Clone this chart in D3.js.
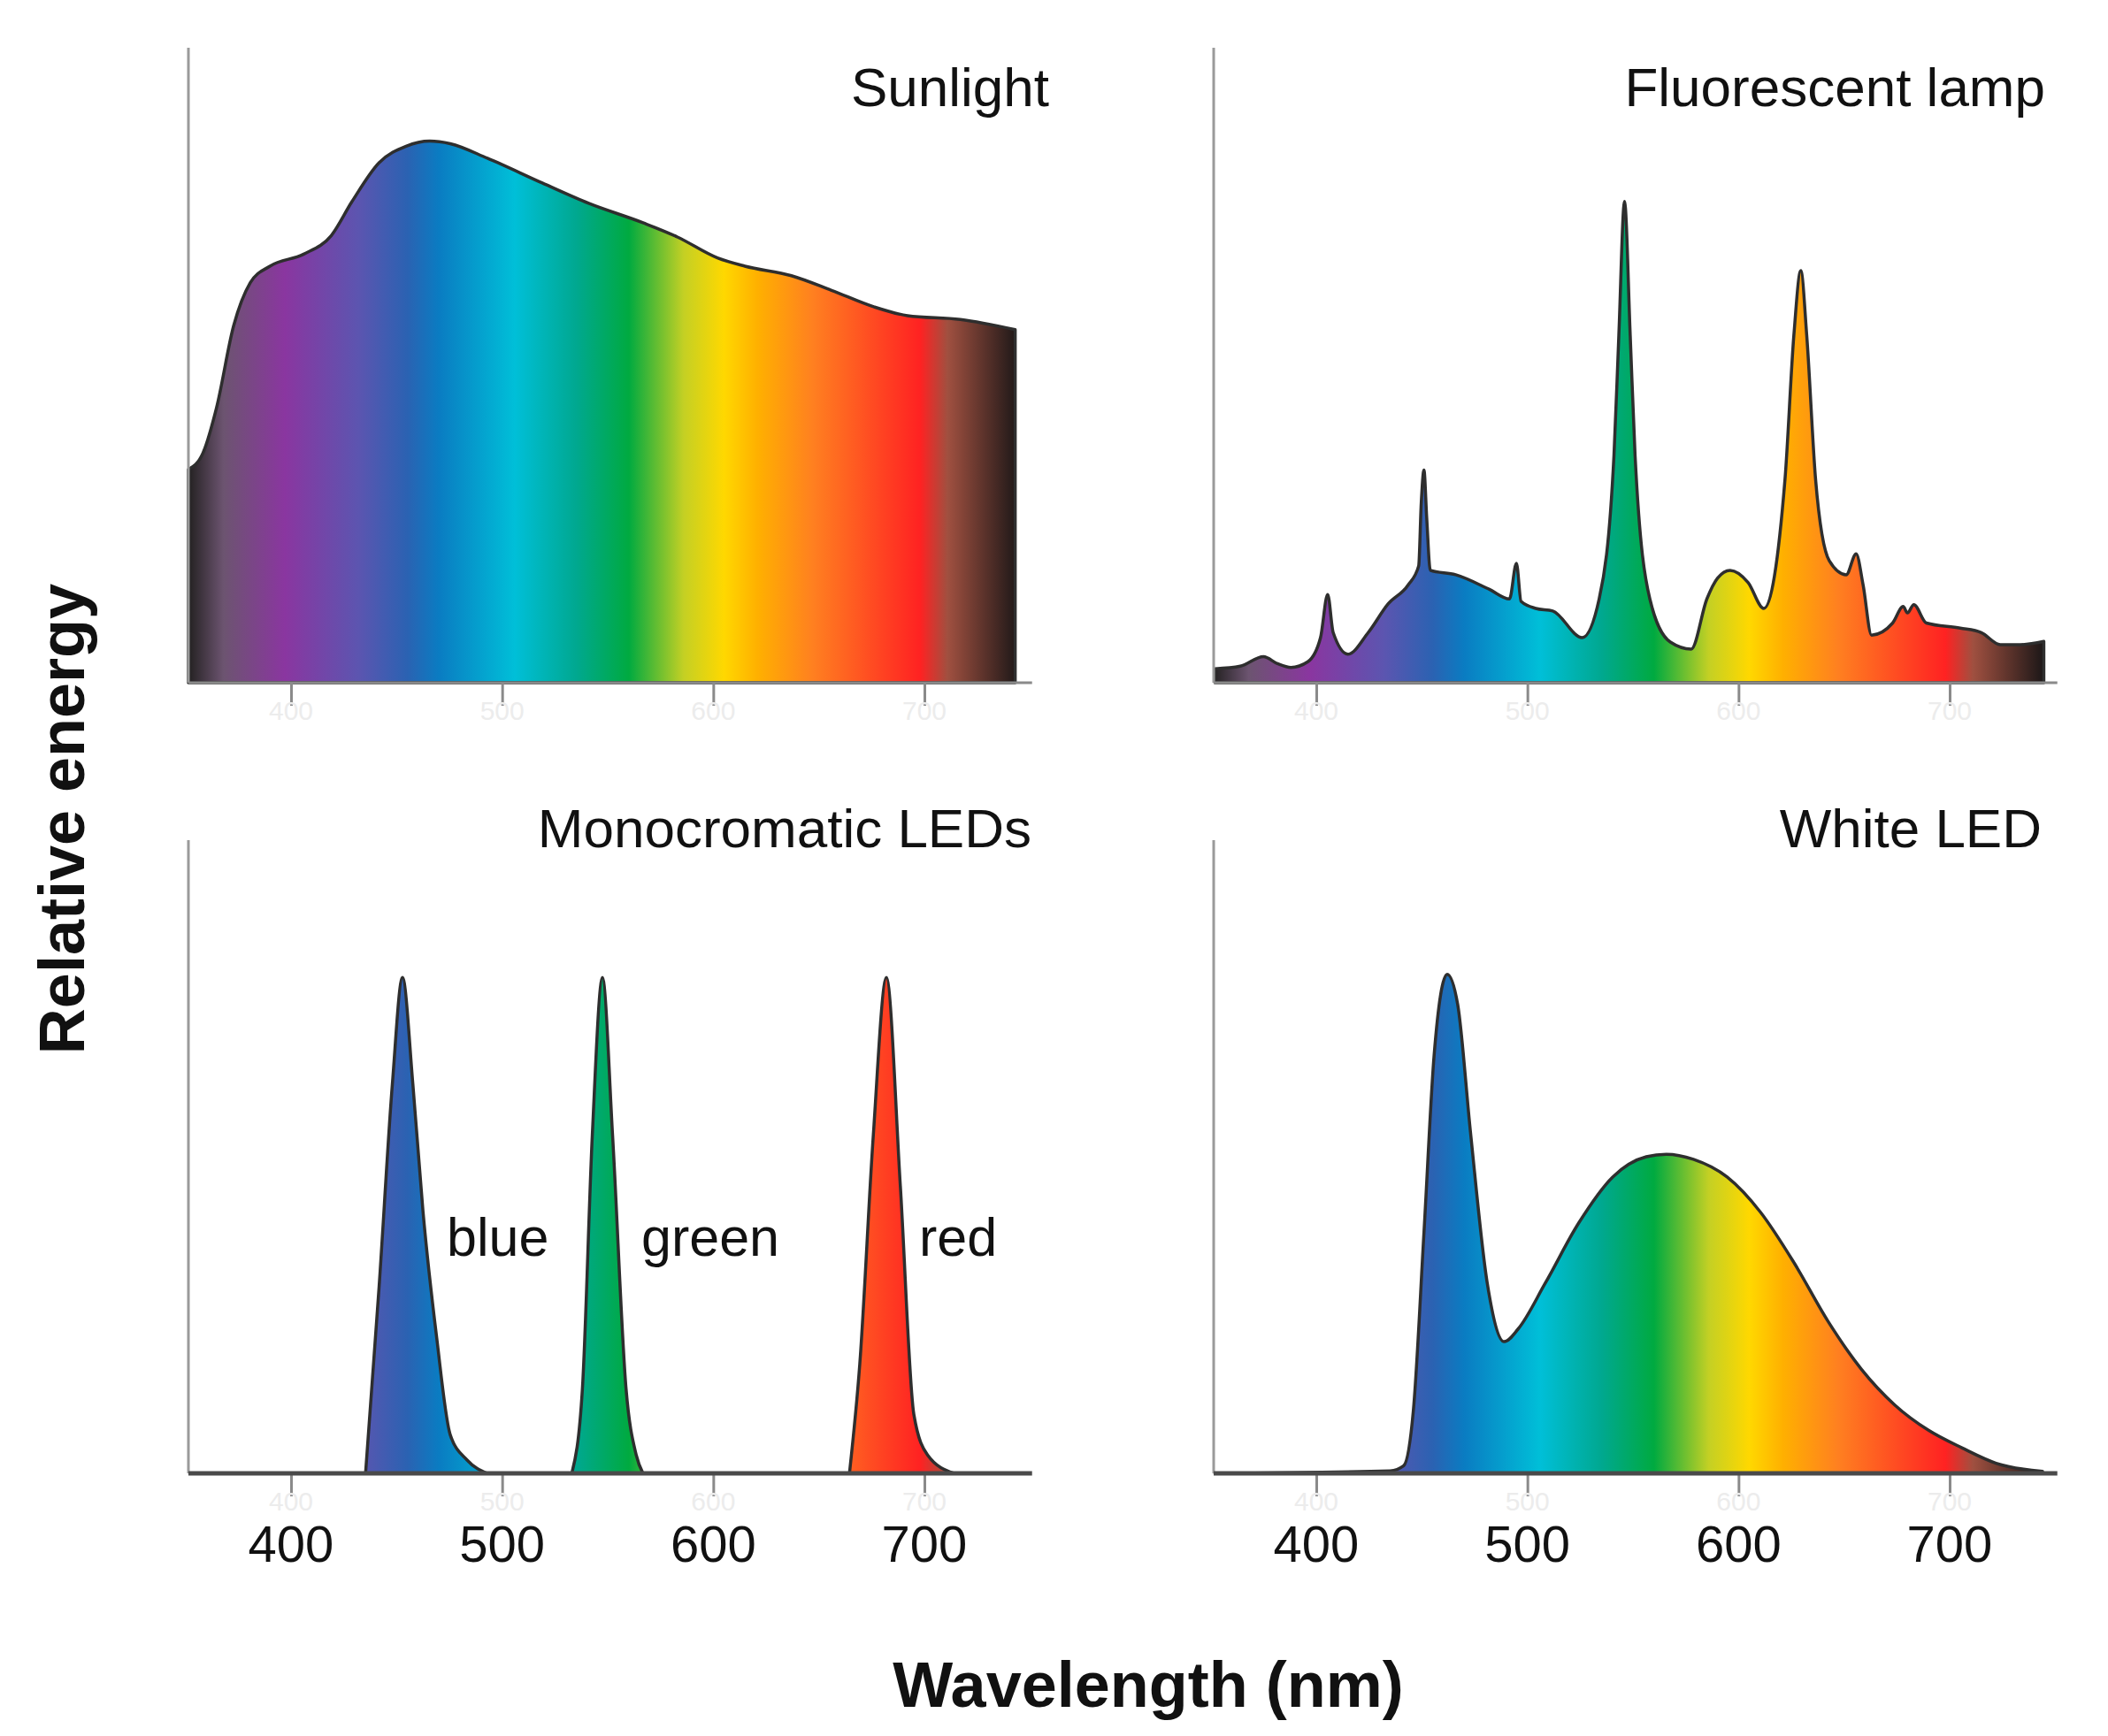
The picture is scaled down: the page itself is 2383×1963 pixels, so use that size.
<!DOCTYPE html>
<html>
<head>
<meta charset="utf-8">
<script src="https://cdn.jsdelivr.net/npm/d3@7"></script>
<style>
  body { margin: 0; background: #fff; }
  svg { display: block; }
  text { font-family: "Liberation Sans", Arial, Helvetica, sans-serif; }
</style>
</head>
<body>
<div id="chart"></div>
<script>
// wavelength ticks
const tickNm = [400, 500, 600, 700];

// spectrum colours along the wavelength axis
const specNm = [352, 368, 397, 432, 455, 470, 506, 535, 560, 586, 605, 621, 647, 679, 698, 711, 744];
const specColors = ["#262324", "#6c5470", "#8a36a0", "#5c55b0", "#2b62b2", "#0a7cc2", "#00bfd8", "#00a890",
                    "#00aa40", "#c4d024", "#ffd800", "#ffb000", "#ff8020", "#ff4422", "#ff2222", "#a05040", "#1e1818"];

// Sunlight
const sunNm  = [351.4, 358.3, 364.7, 372.8, 380.7, 390, 406, 419, 428.9, 441.7, 454.5, 465.7, 475.4, 493, 519, 541, 567, 583, 602, 615, 637, 656, 676, 692, 717, 743];
const sunVal = [0.336, 0.362, 0.433, 0.562, 0.630, 0.656, 0.675, 0.704, 0.758, 0.819, 0.845, 0.853, 0.849, 0.826, 0.787, 0.755, 0.724, 0.702, 0.669, 0.656, 0.641, 0.618, 0.592, 0.578, 0.572, 0.556];

// Fluorescent lamp
const fluoNm  = [352, 364, 375, 381.6, 388, 396, 402, 405.4, 408, 415, 424.6, 434, 443.5, 448.5, 449.7, 451, 452.3, 454, 466, 482, 491.5, 494.8, 497, 504, 512,
                 526, 534, 541, 543.3, 546, 548.7, 551, 558, 567.7, 577.6, 585, 590.1, 596, 604.5, 612, 622, 626.2, 629.5, 632.3, 636.5, 643, 651, 655.7, 659, 663,
                 673, 678, 680, 683, 689, 705, 715, 724, 733.5, 744.6];
const fluoVal = [0.022, 0.026, 0.041, 0.030, 0.024, 0.033, 0.071, 0.139, 0.079, 0.045, 0.079, 0.124, 0.154, 0.184, 0.282, 0.335, 0.26, 0.177, 0.17, 0.147, 0.132, 0.188, 0.128, 0.117, 0.113,
                 0.071, 0.132, 0.358, 0.547, 0.758, 0.547, 0.358, 0.132, 0.064, 0.053, 0.132, 0.165, 0.177, 0.158, 0.117, 0.32, 0.547, 0.649, 0.547, 0.32, 0.192, 0.17, 0.203, 0.154, 0.075,
                 0.094, 0.12, 0.11, 0.123, 0.094, 0.086, 0.079, 0.06, 0.06, 0.065];

// Monochromatic LEDs
const blueNm   = [435.3, 441.7, 448, 452.8, 457.7, 462.5, 469, 475.4, 483.4, 493];
const blueVal  = [0, 0.294, 0.615, 0.783, 0.615, 0.414, 0.214, 0.061, 0.021, 0];
const greenNm  = [533, 538, 542.7, 547.5, 552.3, 558.7, 563.5, 566.7];
const greenVal = [0, 0.133, 0.534, 0.783, 0.534, 0.133, 0.029, 0];
const redNm    = [664.5, 669.4, 675.8, 682, 688.6, 695, 701.5, 714];
const redVal   = [0, 0.173, 0.534, 0.783, 0.454, 0.093, 0.029, 0];

// White LED
const whiteNm  = [352, 435, 441.4, 446, 451, 455.8, 462, 467, 473, 481, 489, 495.6, 508.4, 524.4, 540.4, 556.3, 565.8, 578.6, 594.6, 610.5, 626.4, 642.4, 658.3, 674, 690, 706, 722, 744];
const whiteVal = [0, 0.004, 0.012, 0.1, 0.38, 0.66, 0.788, 0.74, 0.54, 0.30, 0.208, 0.228, 0.30, 0.396, 0.468, 0.50, 0.504, 0.496, 0.468, 0.412, 0.332, 0.24, 0.164, 0.108, 0.068, 0.04, 0.016, 0.003];

const W = 2383, H = 1963;
const svg = d3.select("#chart").append("svg")
    .attr("width", W)
    .attr("height", H);

svg.append("rect").attr("width", W).attr("height", H).attr("fill", "#fff");

// same local x scale in every panel
const x = d3.scaleLinear().domain([400, 700]).range([329, 1045]);
const axisStart = 351.4, axisEnd = 751;

// spectrum gradient (user space, so every panel shares it)
const grad = svg.append("defs").append("linearGradient")
    .attr("id", "spec")
    .attr("gradientUnits", "userSpaceOnUse")
    .attr("x1", x(specNm[0])).attr("x2", x(specNm[specNm.length - 1]))
    .attr("y1", 0).attr("y2", 0);
const gx0 = x(specNm[0]), gx1 = x(specNm[specNm.length - 1]);
grad.selectAll("stop")
    .data(specNm)
    .enter()
    .append("stop")
    .attr("offset", d => (x(d) - gx0) / (gx1 - gx0))
    .attr("stop-color", (d, i) => specColors[i]);

const panels = [
    { title: "Sunlight", dx: 0, base: 772, top: 54, tx: 1186, ty: 120, series: [[sunNm, sunVal]], labels: false, axisColor: "#8a8a8a", axisW: 3 },
    { title: "Fluorescent lamp", dx: 1159, base: 772, top: 54, tx: 2312, ty: 120, series: [[fluoNm, fluoVal]], labels: false, axisColor: "#8a8a8a", axisW: 3 },
    { title: "Monocromatic LEDs", dx: 0, base: 1666, top: 950, tx: 1166, ty: 958, series: [[blueNm, blueVal], [greenNm, greenVal], [redNm, redVal]], labels: true, axisColor: "#4a4a4a", axisW: 5 },
    { title: "White LED", dx: 1159, base: 1666, top: 950, tx: 2308, ty: 958, series: [[whiteNm, whiteVal]], labels: true, axisColor: "#4a4a4a", axisW: 5 }
];

panels.forEach(p => {
    const g = svg.append("g").attr("transform", `translate(${p.dx},0)`);
    const y = d3.scaleLinear().domain([0, 1]).range([p.base, p.top]);

    const area = d3.area()
        .x(d => x(d[0]))
        .y0(p.base)
        .y1(d => y(d[1]))
        .curve(d3.curveMonotoneX);

    // spectra
    p.series.forEach(([nm, val]) => {
        g.append("path")
            .datum(nm.map((n, i) => [n, val[i]]))
            .attr("d", area)
            .attr("fill", "url(#spec)")
            .attr("stroke", "#2e2e2e")
            .attr("stroke-width", 3.5)
            .attr("stroke-linejoin", "round");
    });

    // y axis line
    g.append("line")
        .attr("x1", x(axisStart)).attr("x2", x(axisStart))
        .attr("y1", p.top).attr("y2", p.base)
        .attr("stroke", "#9a9a9a")
        .attr("stroke-width", 3);

    // x axis with ticks below
    const xAxis = d3.axisBottom(x)
        .tickValues(tickNm)
        .tickSize(26)
        .tickFormat("");
    const ax = g.append("g")
        .attr("transform", `translate(0,${p.base})`)
        .call(xAxis);
    ax.select(".domain").remove();
    ax.selectAll(".tick line").attr("stroke", "#8a8a8a").attr("stroke-width", 3);

    g.append("line")
        .attr("x1", x(axisStart)).attr("x2", x(axisEnd))
        .attr("y1", p.base).attr("y2", p.base)
        .attr("stroke", p.axisColor)
        .attr("stroke-width", p.axisW);

    // faint ghost labels under the ticks
    g.selectAll(".ghost")
        .data(tickNm)
        .enter()
        .append("text")
        .attr("class", "ghost")
        .attr("x", d => x(d))
        .attr("y", p.base + 42)
        .attr("text-anchor", "middle")
        .style("font-size", "30px")
        .attr("fill", "#ececec")
        .text(d => d);

    if (p.labels) {
        g.selectAll(".tlabel")
            .data(tickNm)
            .enter()
            .append("text")
            .attr("class", "tlabel")
            .attr("x", d => x(d))
            .attr("y", p.base + 100)
            .attr("text-anchor", "middle")
            .style("font-size", "58px")
            .attr("fill", "#111")
            .text(d => d);
    }

    // panel title
    g.append("text")
        .attr("x", p.tx - p.dx)
        .attr("y", p.ty)
        .attr("text-anchor", "end")
        .style("font-size", "62px")
        .attr("fill", "#111")
        .text(p.title);
});

// LED colour names
const ledNames = ["blue", "green", "red"];
const ledNameX = [505, 725, 1039];
svg.selectAll(".led")
    .data(ledNames)
    .enter()
    .append("text")
    .attr("class", "led")
    .attr("x", (d, i) => ledNameX[i])
    .attr("y", 1420)
    .style("font-size", "61px")
    .attr("fill", "#111")
    .text(d => d);

// axis titles
svg.append("text")
    .attr("transform", "translate(95,926) rotate(-90)")
    .attr("text-anchor", "middle")
    .style("font-size", "72px")
    .style("font-weight", "bold")
    .attr("fill", "#111")
    .text("Relative energy");

svg.append("text")
    .attr("x", 1298)
    .attr("y", 1930)
    .attr("text-anchor", "middle")
    .style("font-size", "72px")
    .style("font-weight", "bold")
    .attr("fill", "#111")
    .text("Wavelength (nm)");
</script>
</body>
</html>
